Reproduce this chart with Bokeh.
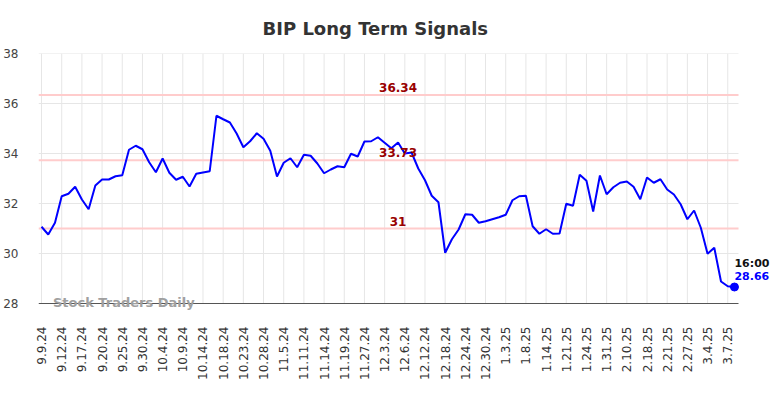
import math
from bokeh.plotting import figure
from bokeh.models import FixedTicker, Label, Range1d
from bokeh.core.properties import value
from bokeh.embed import file_html
from bokeh.resources import INLINE

tick_labels = ["9.9.24", "9.12.24", "9.17.24", "9.20.24", "9.25.24", "9.30.24", "10.4.24",
               "10.9.24", "10.14.24", "10.18.24", "10.23.24", "10.28.24", "11.5.24", "11.11.24",
               "11.14.24", "11.19.24", "11.27.24", "12.3.24", "12.6.24", "12.12.24", "12.18.24",
               "12.24.24", "12.30.24", "1.3.25", "1.8.25", "1.14.25", "1.21.25", "1.24.25",
               "1.31.25", "2.10.25", "2.18.25", "2.21.25", "2.27.25", "3.4.25", "3.7.25"]
tick_step = 3

prices = [31.07, 30.76, 31.23, 32.29, 32.39, 32.67, 32.16, 31.77, 32.72, 32.96,
          32.96, 33.09, 33.13, 34.15, 34.31, 34.17, 33.65, 33.25, 33.80, 33.23,
          32.95, 33.07, 32.68, 33.19, 33.24, 33.29, 35.51, 35.37, 35.24, 34.80,
          34.25, 34.49, 34.81, 34.59, 34.11, 33.08, 33.63, 33.81, 33.45, 33.95,
          33.91, 33.60, 33.21, 33.36, 33.49, 33.45, 33.99, 33.88, 34.48, 34.49,
          34.65, 34.43, 34.21, 34.44, 34.00, 34.04, 33.40, 32.93, 32.31, 32.05,
          30.03, 30.57, 30.96, 31.57, 31.55, 31.23, 31.29, 31.37, 31.45, 31.55,
          32.13, 32.29, 32.31, 31.09, 30.79, 30.97, 30.79, 30.80, 31.99, 31.91,
          33.15, 32.91, 31.68, 33.12, 32.37, 32.65, 32.83, 32.88, 32.67, 32.17,
          33.04, 32.83, 32.97, 32.56, 32.36, 31.97, 31.37, 31.72, 31.03, 29.99,
          30.23, 28.88, 28.69, 28.66]

signal_levels = [36.34, 33.73, 31.0]
signal_texts = ["36.34", "33.73", "31"]
y_ticks = [28, 30, 32, 34, 36, 38]
last_time = "16:00"
last_text = "28.66"
title_text = "BIP Long Term Signals"
watermark = "Stock Traders Daily"

x = list(range(len(prices)))
ticks = [i * tick_step for i in range(len(tick_labels))]

# visible plotting box (in data units) and the extra room kept for outside texts
x_lo, x_hi = -0.45, 103.6
y_lo, y_hi = 28.0, 38.0
frame_w, frame_h = 700, 250
extra_right_px, extra_bottom_px = 35, 8
px_x = frame_w / (x_hi - x_lo)
px_y = frame_h / (y_hi - y_lo)

p = figure(width=768, height=381, output_backend="svg", toolbar_location=None,
           x_range=Range1d(x_lo, x_hi + extra_right_px / px_x),
           y_range=Range1d(y_lo - extra_bottom_px / px_y, y_hi),
           frame_width=frame_w + extra_right_px, frame_height=frame_h + extra_bottom_px,
           min_border_left=32, min_border_right=1, min_border_top=53,
           min_border_bottom=70, background_fill_color="white",
           border_fill_color="white", outline_line_color=None)

p.title.text = title_text
p.title.align = "left"
p.title.offset = 224
p.title.standoff = 29
p.title.text_font = "DejaVu Sans"
p.title.text_font_size = "18px"
p.title.text_font_style = "bold"
p.title.text_color = "#333333"

p.xaxis.ticker = FixedTicker(ticks=ticks)
p.xaxis.major_label_overrides = {t: lab for t, lab in zip(ticks, tick_labels)}
p.xaxis.major_label_orientation = math.pi / 2
p.xaxis.major_label_text_font = "DejaVu Sans"
p.xaxis.major_label_text_font_size = "12px"
p.xaxis.major_label_text_color = "#333333"
p.xaxis.major_tick_line_color = None
p.xaxis.minor_tick_line_color = None
p.xaxis.axis_line_color = None
p.xaxis.major_label_standoff = 9

p.yaxis.ticker = FixedTicker(ticks=y_ticks)
p.yaxis.major_label_text_font = "DejaVu Sans"
p.yaxis.major_label_text_font_size = "12px"
p.yaxis.major_label_text_color = "#444444"
p.yaxis.major_tick_line_color = None
p.yaxis.minor_tick_line_color = None
p.yaxis.axis_line_color = None
p.yaxis.major_label_standoff = 14

p.xgrid.grid_line_color = None
p.ygrid.grid_line_color = None

grid_col = "#e6e6e6"
p.segment(x0=ticks, y0=[y_lo] * len(ticks), x1=ticks, y1=[y_hi] * len(ticks),
          line_color=grid_col, line_width=1)
gy = y_ticks[1:]
p.segment(x0=[x_lo] * len(gy), y0=gy, x1=[x_hi] * len(gy), y1=gy,
          line_color=grid_col, line_width=1)

p.segment(x0=[x_lo] * len(signal_levels), y0=signal_levels,
          x1=[x_hi] * len(signal_levels), y1=signal_levels,
          line_color="#ffcccc", line_width=2)

# bottom axis line
p.segment(x0=[x_lo], y0=[y_lo], x1=[x_hi], y1=[y_lo], line_color="#555555", line_width=1)

p.line(x, prices, line_color="#0000ff", line_width=2)
p.scatter([x[-1]], [prices[-1]], size=8, color="#0000ff")

for lvl, txt in zip(signal_levels, signal_texts):
    p.add_layout(Label(x=53, y=lvl, text=txt, text_align="center", text_baseline="bottom",
                       y_offset=3, text_color="#990000", text_font="DejaVu Sans",
                       text_font_size="12px", text_font_style="bold"))

p.text(x=[x[-1]], y=[prices[-1]], text=[last_text], text_align="left",
       text_baseline="middle", y_offset=-11, text_color="#0000ff",
       text_font=value("DejaVu Sans"), text_font_size="11px", text_font_style="bold")
p.text(x=[x[-1]], y=[prices[-1]], text=[last_time], text_align="left",
       text_baseline="middle", y_offset=-24, text_color="#111111",
       text_font=value("DejaVu Sans"), text_font_size="11px", text_font_style="bold")

p.add_layout(Label(x=1.7, y=y_lo, text=watermark, text_align="left", text_baseline="middle",
                   y_offset=1, text_color="#a0a0a0", text_font="DejaVu Sans",
                   text_font_size="13px", text_font_style="bold"))

open("out.html", "w").write(file_html(p, INLINE))
